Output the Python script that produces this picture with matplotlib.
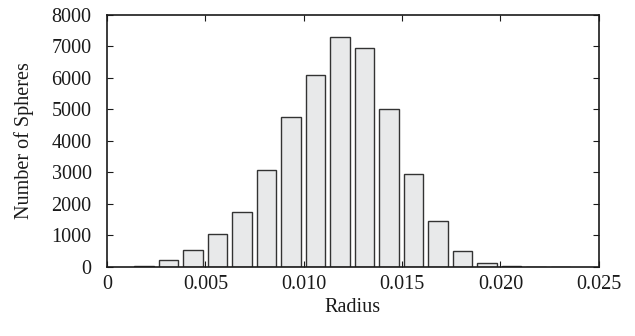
import matplotlib
matplotlib.use("Agg")
import matplotlib.pyplot as plt

# histogram of sphere radii (bin centres)
radius = [0.00188, 0.00313, 0.00437, 0.00562, 0.00686, 0.00811, 0.00935, 0.01060,
          0.01184, 0.01309, 0.01433, 0.01558, 0.01682, 0.01807, 0.01931, 0.02056,
          0.02180, 0.02305]
counts = [45, 220, 530, 1040, 1750, 3070, 4750, 6080,
          7300, 6940, 5000, 2960, 1450, 520, 130, 35,
          8, 2]

plt.rcParams['font.family'] = ['Liberation Serif', 'DejaVu Serif']

fig = plt.figure(figsize=(6.35, 3.36), dpi=100)
ax = fig.add_axes([0.1685, 0.2054, 0.7745, 0.7500])

ax.bar(radius, counts, width=0.00100, color='#e8e9ea', edgecolor='#333333', linewidth=1.0)

ax.set_xlim(0, 0.025)
ax.set_ylim(0, 8000)
ax.set_xticks([0, 0.005, 0.010, 0.015, 0.020, 0.025])
ax.set_xticklabels(['0', '0.005', '0.010', '0.015', '0.020', '0.025'])
ax.set_yticks(range(0, 8001, 1000))
ax.tick_params(direction='in', top=True, right=True, length=4, width=0.8,
               labelsize=14.5, colors='#1a1a1a')
ax.tick_params(axis='x', pad=6)
ax.tick_params(axis='y', pad=11)
for s in ax.spines.values():
    s.set_linewidth(1.2)
    s.set_color('#1a1a1a')

ax.set_xlabel('Radius', fontsize=14.5, labelpad=3, color='#1a1a1a')
ax.set_ylabel('Number of Spheres', fontsize=14.5, labelpad=13, color='#1a1a1a')

fig.savefig('out.png', dpi=100)
